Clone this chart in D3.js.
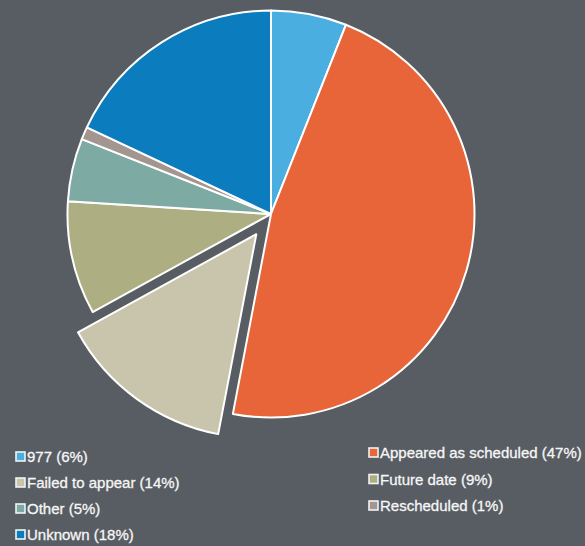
<!DOCTYPE html>
<html>
<head>
<meta charset="utf-8">
<script src="https://cdn.jsdelivr.net/npm/d3@7"></script>
<style>
  html, body { margin: 0; padding: 0; background: #585d63; }
  svg { display: block; }
</style>
</head>
<body>
<svg id="chart" width="585" height="546"></svg>
<script>
// Case outcomes, in drawing order (clockwise from 12 o'clock)
const categories = ["977", "Appeared as scheduled", "Failed to appear", "Future date", "Other", "Rescheduled", "Unknown"];
const values = [6, 47, 14, 9, 5, 1, 18];
const colors = ["#4aaee0", "#e8653a", "#c9c5ad", "#adaf83", "#7eaaa4", "#a3958f", "#0b7cbd"];
const explodedCategory = "Failed to appear";

// Legend layout: two columns
const legendLeft = ["977", "Failed to appear", "Other", "Unknown"];
const legendRight = ["Appeared as scheduled", "Future date", "Rescheduled"];

const svg = d3.select("#chart");
const W = 585, H = 546;
svg.append("rect").attr("width", W).attr("height", H).attr("fill", "#585d63");

const cx = 271, cy = 214, radius = 203.5, explode = 25;

const data = categories.map((c, i) => ({ category: c, value: values[i] }));
const color = d3.scaleOrdinal().domain(categories).range(colors);

const pie = d3.pie().value(d => d.value).sort(null);
const arc = d3.arc().innerRadius(0).outerRadius(radius);

const g = svg.append("g").attr("transform", `translate(${cx},${cy})`);

g.selectAll("path.slice")
  .data(pie(data))
  .join("path")
  .attr("class", "slice")
  .attr("d", arc)
  .attr("fill", d => color(d.data.category))
  .attr("stroke", "#ffffff")
  .attr("stroke-width", 2)
  .attr("stroke-linejoin", "round")
  .attr("transform", d => {
    if (d.data.category !== explodedCategory) return null;
    const mid = (d.startAngle + d.endAngle) / 2;
    return `translate(${Math.sin(mid) * explode},${-Math.cos(mid) * explode})`;
  });

// Legend
function drawLegend(items, x, y0, step) {
  const lg = svg.append("g");
  items.forEach((cat, i) => {
    const v = values[categories.indexOf(cat)];
    const y = y0 + i * step;
    lg.append("rect")
      .attr("x", x).attr("y", y - 5)
      .attr("width", 9).attr("height", 9)
      .attr("fill", color(cat))
      .attr("stroke", "#f2f2f2").attr("stroke-width", 1.6);
    lg.append("text")
      .attr("x", x + 11).attr("y", y)
      .attr("dy", "0.35em")
      .attr("fill", "#f6f6f6")
      .attr("stroke", "#f6f6f6")
      .attr("stroke-width", 0.3)
      .attr("font-family", "'Liberation Sans', Arial, sans-serif")
      .attr("font-size", 15)
      .text(`${cat} (${v}%)`);
  });
}
drawLegend(legendLeft, 16, 457, 26);
drawLegend(legendRight, 369, 453, 26.5);
</script>
</body>
</html>
